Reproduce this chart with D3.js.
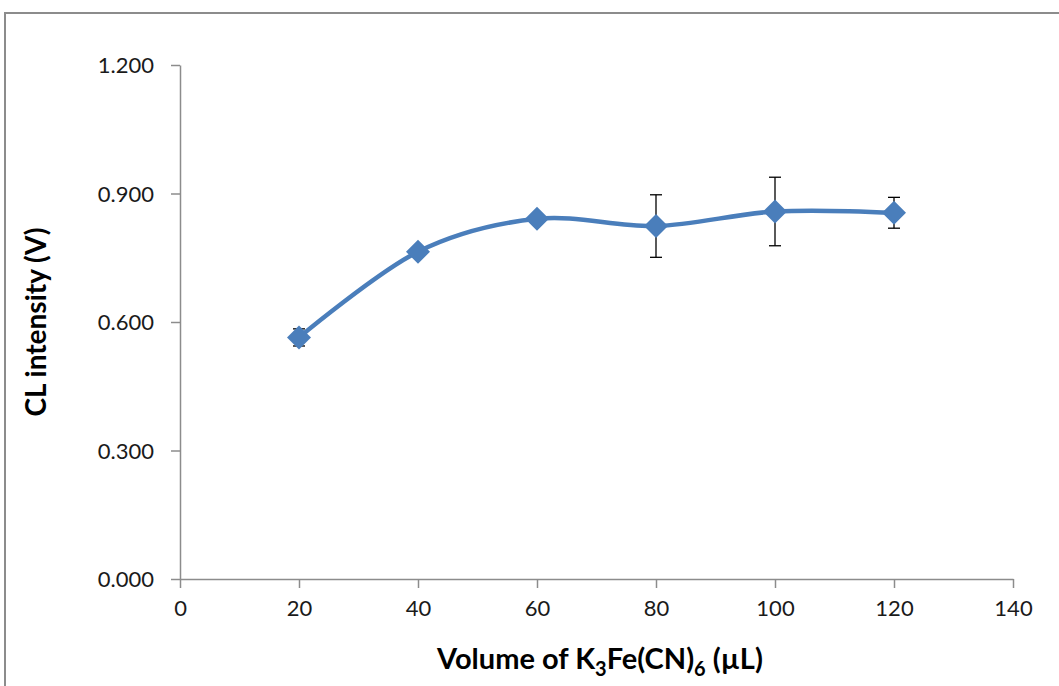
<!DOCTYPE html>
<html>
<head>
<meta charset="utf-8">
<script src="https://cdn.jsdelivr.net/npm/d3@7"></script>
<style>
  body { margin: 0; background: #fff; }
  svg { display: block; font-family: Lato, "Open Sans", sans-serif; }
</style>
</head>
<body>
<div id="chart"></div>
<script>
// Data
const volumes = [20, 40, 60, 80, 100, 120];
const intensity = [0.564, 0.764, 0.841, 0.824, 0.858, 0.855];
const errors = [0.02, 0.0, 0.0, 0.073, 0.08, 0.036];
const xTicks = [0, 20, 40, 60, 80, 100, 120, 140];
const yTicks = [0, 0.3, 0.6, 0.9, 1.2];

const width = 1059, height = 686;
const margin = { left: 180, right: 46, top: 65, bottom: 107 };

const svg = d3.select('#chart')
    .append('svg')
    .attr('width', width)
    .attr('height', height);

// chart frame (cut off at right and bottom)
svg.append('rect')
    .attr('x', 5).attr('y', 13)
    .attr('width', width + 10).attr('height', height + 10)
    .attr('fill', 'none')
    .attr('stroke', '#8c8c8c')
    .attr('stroke-width', 2);

const x = d3.scaleLinear().domain([0, 140]).range([margin.left, width - margin.right]);
const y = d3.scaleLinear().domain([0, 1.2]).range([height - margin.bottom, margin.top]);

// y axis
const yAxis = svg.append('g')
    .attr('transform', `translate(${margin.left},0)`)
    .call(d3.axisLeft(y).tickValues(yTicks).tickFormat(d3.format('.3f')).tickSize(9).tickSizeOuter(0));

// x axis
const xAxis = svg.append('g')
    .attr('transform', `translate(0,${height - margin.bottom})`)
    .call(d3.axisBottom(x).tickValues(xTicks).tickSize(9).tickSizeOuter(0));

[xAxis, yAxis].forEach(a => {
    a.attr('font-family', 'Lato, "Open Sans", sans-serif');
    a.select('.domain').attr('stroke', '#8c8c8c').attr('stroke-width', 1.5);
    a.selectAll('.tick line').attr('stroke', '#8c8c8c').attr('stroke-width', 1.5);
    a.selectAll('.tick text').attr('fill', '#1a1a1a').style('font-size', '22px');
});
yAxis.selectAll('.tick text').attr('x', -26).attr('dy', '0.35em');
xAxis.selectAll('.tick text').attr('y', 21).attr('dy', '0.71em');

// axis titles
svg.append('text')
    .attr('transform', `translate(36,${(margin.top + height - margin.bottom) / 2}) rotate(-90)`)
    .attr('text-anchor', 'middle')
    .attr('dy', '0.35em')
    .style('font-size', '28px')
    .style('font-weight', 'bold')
    .text('CL intensity (V)');

const xt = svg.append('text')
    .attr('x', 600).attr('y', 669)
    .attr('text-anchor', 'middle')
    .style('font-size', '29px')
    .style('font-weight', 'bold');
xt.append('tspan').text('Volume of K');
xt.append('tspan').attr('dy', 7).style('font-size', '20px').text('3');
xt.append('tspan').attr('dy', -7).text('Fe(CN)');
xt.append('tspan').attr('dy', 7).style('font-size', '20px').text('6');
xt.append('tspan').attr('dy', -7).text(' (\u00b5L)');

const data = volumes.map((v, i) => ({ v, c: intensity[i], e: errors[i] }));

// smoothed line
const line = d3.line()
    .x(d => x(d.v))
    .y(d => y(d.c))
    .curve(d3.curveCatmullRom.alpha(0));

svg.append('path')
    .datum(data)
    .attr('d', line)
    .attr('fill', 'none')
    .attr('stroke', '#4a7ebb')
    .attr('stroke-width', 4.5);

// error bars
const eb = svg.append('g')
    .selectAll('g')
    .data(data.filter(d => d.e > 0))
    .enter()
    .append('g')
    .attr('stroke', '#000')
    .attr('stroke-width', 1.3);

eb.append('line')
    .attr('x1', d => x(d.v)).attr('x2', d => x(d.v))
    .attr('y1', d => y(d.c + d.e)).attr('y2', d => y(d.c - d.e));
eb.append('line')
    .attr('x1', d => x(d.v) - 6).attr('x2', d => x(d.v) + 6)
    .attr('y1', d => y(d.c + d.e)).attr('y2', d => y(d.c + d.e));
eb.append('line')
    .attr('x1', d => x(d.v) - 6).attr('x2', d => x(d.v) + 6)
    .attr('y1', d => y(d.c - d.e)).attr('y2', d => y(d.c - d.e));

// diamond markers
svg.append('g')
    .selectAll('path')
    .data(data)
    .enter()
    .append('path')
    .attr('d', 'M0,-12L12,0L0,12L-12,0Z')
    .attr('transform', d => `translate(${x(d.v)},${y(d.c)})`)
    .attr('fill', '#4a7ebb');
</script>
</body>
</html>
